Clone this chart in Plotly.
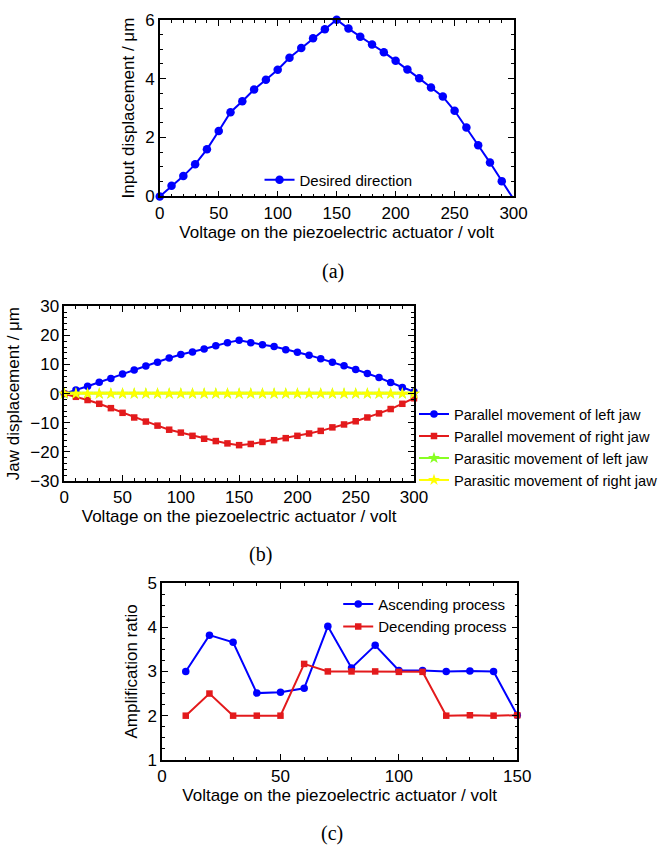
import plotly.graph_objects as go

# ---------------- data ----------------
volt_a = list(range(0, 301, 10))
input_disp = [0.0, 0.36, 0.69, 1.09, 1.60, 2.22, 2.86, 3.23, 3.63, 3.96, 4.30,
              4.71, 5.04, 5.37, 5.68, 6.00, 5.70, 5.42, 5.16, 4.90, 4.61,
              4.31, 4.01, 3.70, 3.39, 2.91, 2.34, 1.74, 1.15, 0.52, -0.09]

volt_b = list(range(0, 301, 10))
left_jaw = [0.0, 1.2, 2.5, 3.9, 5.2, 6.7, 8.1, 9.5, 10.8, 12.2, 13.4,
            14.3, 15.3, 16.4, 17.5, 18.3, 17.5, 16.8, 16.2, 15.1, 14.2,
            13.2, 12.0, 10.8, 9.6, 8.3, 6.9, 5.5, 3.8, 2.1, 0.6]
right_jaw = [-0.1, -1.1, -2.2, -3.5, -5.0, -6.6, -8.2, -9.6, -11.0, -12.4, -13.4,
             -14.5, -15.5, -16.3, -17.1, -17.7, -17.3, -16.6, -16.0, -15.3, -14.5,
             -13.7, -12.8, -11.6, -10.6, -9.5, -8.2, -6.8, -5.3, -3.5, -1.6]
parasitic_left = [0.0] * 31
parasitic_right = [0.0] * 31

volt_c = list(range(10, 151, 10))
ascending = [3.0, 3.82, 3.66, 2.51, 2.53, 2.62, 4.02, 3.08, 3.59, 3.02,
             3.02, 3.0, 3.01, 3.0, 2.01]
descending = [2.0, 2.5, 2.0, 2.0, 2.0, 3.17, 3.0, 3.0, 3.0, 2.99,
              2.99, 2.0, 2.01, 2.0, 2.01]

x_title = "Voltage on the piezoelectric actuator / volt"
captions = ["(a)", "(b)", "(c)"]

# ---------------- layout helpers ----------------
W, H = 666, 854
FONT = "Liberation Sans, Arial, sans-serif"
BLUE = "#0000ff"
RED = "#e31a1c"
GREEN = "#88ff22"
YELLOW = "#ffff00"


def px_x(a, b):
    return [a / W, b / W]


def px_y(top, bottom):
    return [1 - bottom / H, 1 - top / H]


def axis(domain, rng, dtick, minor, anchor):
    return dict(
        domain=domain, range=rng, dtick=dtick, anchor=anchor,
        showline=True, linecolor="black", linewidth=1.5, mirror="allticks",
        ticks="inside", ticklen=6, tickwidth=1.2, tickcolor="black",
        minor=dict(dtick=minor, ticks="inside", ticklen=3, tickwidth=1, tickcolor="black"),
        showgrid=False, zeroline=False,
        tickfont=dict(family=FONT, size=17, color="black"),
        title_font=dict(family=FONT, size=17, color="black"),
    )


fig = go.Figure()

# panel (a)
fig.add_trace(go.Scatter(x=volt_a, y=input_disp, mode="lines+markers", name="Desired direction",
                         line=dict(color=BLUE, width=2), marker=dict(symbol="circle", size=8.5, color=BLUE),
                         xaxis="x", yaxis="y", legend="legend", cliponaxis=False))

# panel (b)
fig.add_trace(go.Scatter(x=volt_b, y=left_jaw, mode="lines+markers", name="Parallel movement of left jaw",
                         line=dict(color=BLUE, width=2), marker=dict(symbol="circle", size=7.5, color=BLUE),
                         xaxis="x2", yaxis="y2", legend="legend2", cliponaxis=False))
fig.add_trace(go.Scatter(x=volt_b, y=right_jaw, mode="lines+markers", name="Parallel movement of right jaw",
                         line=dict(color=RED, width=2), marker=dict(symbol="square", size=6.5, color=RED),
                         xaxis="x2", yaxis="y2", legend="legend2", cliponaxis=False))
fig.add_trace(go.Scatter(x=volt_b, y=parasitic_left, mode="lines+markers", name="Parasitic movement of left jaw",
                         line=dict(color=GREEN, width=2), marker=dict(symbol="star", size=9, color=GREEN),
                         xaxis="x2", yaxis="y2", legend="legend2", cliponaxis=False))
fig.add_trace(go.Scatter(x=volt_b, y=parasitic_right, mode="lines+markers", name="Parasitic movement of right jaw",
                         line=dict(color=YELLOW, width=2), marker=dict(symbol="star", size=9, color=YELLOW),
                         xaxis="x2", yaxis="y2", legend="legend2", cliponaxis=False))

# panel (c)
fig.add_trace(go.Scatter(x=volt_c, y=ascending, mode="lines+markers", name="Ascending process",
                         line=dict(color=BLUE, width=2), marker=dict(symbol="circle", size=7.5, color=BLUE),
                         xaxis="x3", yaxis="y3", legend="legend3", cliponaxis=False))
fig.add_trace(go.Scatter(x=volt_c, y=descending, mode="lines+markers", name="Decending process",
                         line=dict(color=RED, width=2), marker=dict(symbol="square", size=6.5, color=RED),
                         xaxis="x3", yaxis="y3", legend="legend3", cliponaxis=False))

xa = axis(px_x(159.3, 523.5), [0, 300], 50, 10, "y")
ya = axis(px_y(11, 191.7), [0, 6], 2, 0.5, "x")
xb = axis(px_x(61, 421), [0, 300], 50, 10, "y2")
yb = axis(px_y(304, 482.7), [-30, 30], 10, 2, "x2")
xc = axis(px_x(161.7, 527.3), [0, 150], 50, 10, "y3")
yc = axis(px_y(587, 768), [1, 5], 1, 0.25, "x3")

for ax in (xa, xb, xc):
    ax["title"] = dict(text=x_title, standoff=4)
ya["title"] = dict(text="Input displacement / μm", standoff=6)
yb["title"] = dict(text="Jaw displacement / μm", standoff=6)
yc["title"] = dict(text="Amplification ratio", standoff=6)

legend_font = dict(family=FONT, size=15, color="black")
fig.update_layout(
    width=W, height=H, margin=dict(l=0, r=0, t=0, b=0),
    paper_bgcolor="white", plot_bgcolor="white",
    font=dict(family=FONT, color="black"),
    xaxis=xa, yaxis=ya, xaxis2=xb, yaxis2=yb, xaxis3=xc, yaxis3=yc,
    legend=dict(x=262 / W, y=1 - 175 / H, xanchor="left", yanchor="middle",
                bgcolor="rgba(0,0,0,0)", font=legend_font, itemwidth=30, tracegroupgap=0),
    legend2=dict(x=421 / W, y=1 - 448 / H, xanchor="left", yanchor="middle",
                 bgcolor="rgba(0,0,0,0)", font=dict(family=FONT, size=14.6, color="black"),
                 itemwidth=30, tracegroupgap=0),
    legend3=dict(x=343 / W, y=1 - 620 / H, xanchor="left", yanchor="middle",
                 bgcolor="rgba(0,0,0,0)", font=legend_font, itemwidth=30, tracegroupgap=0),
    showlegend=True,
)

cap_pos = [(337.5, 268), (263, 558), (337, 843)]
for text, (cx, cy) in zip(captions, cap_pos):
    fig.add_annotation(text=text, x=cx / W, y=1 - cy / H, xref="paper", yref="paper",
                       showarrow=False, xanchor="center", yanchor="middle",
                       font=dict(family="Liberation Serif, Times New Roman, serif", size=20, color="black"))

fig.write_html("out.html", config={"displayModeBar": False},
               post_script="document.body.style.margin='0';document.body.style.overflow='hidden';")
